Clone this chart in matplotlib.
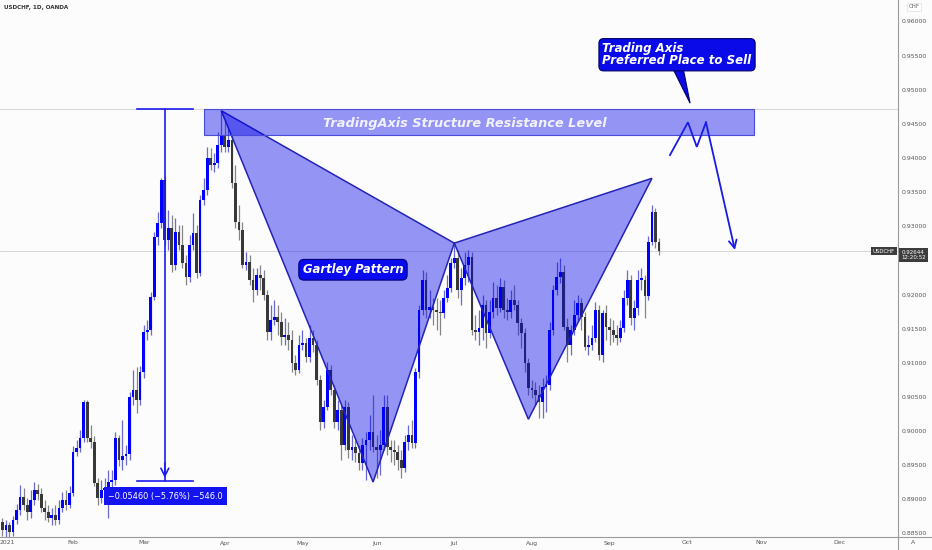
import numpy as np
import pandas as pd
import matplotlib
matplotlib.use('Agg')
import matplotlib.pyplot as plt
from matplotlib.patches import Polygon, Rectangle
import matplotlib.transforms as mtransforms

# ---------------- data ----------------
title_text = "USDCHF, 1D, OANDA"
start_date = '2021-01-01'

opens = [0.8859, 0.8868, 0.8856, 0.8863, 0.8853, 0.8870, 0.8885, 0.8904, 0.8892, 0.8882,
         0.8900, 0.8914, 0.8908, 0.8888, 0.8882, 0.8873, 0.8878, 0.8870, 0.8888, 0.8900,
         0.8892, 0.8910, 0.8970, 0.8976, 0.8990, 0.9043, 0.8990, 0.8985, 0.8925, 0.8902,
         0.8914, 0.8917, 0.8926, 0.8929, 0.8990, 0.8958, 0.8964, 0.8967, 0.9051, 0.9061,
         0.9046, 0.9087, 0.9146, 0.9149, 0.9197, 0.9285, 0.9305, 0.9368, 0.9281, 0.9298,
         0.9244, 0.9292, 0.9273, 0.9247, 0.9226, 0.9273, 0.9291, 0.9232, 0.9339, 0.9354,
         0.9401, 0.9390, 0.9393, 0.9420, 0.9434, 0.9417, 0.9427, 0.9364, 0.9307, 0.9295,
         0.9244, 0.9248, 0.9222, 0.9207, 0.9229, 0.9225, 0.9200, 0.9146, 0.9163, 0.9168,
         0.9161, 0.9138, 0.9141, 0.9134, 0.9100, 0.9090, 0.9127, 0.9130, 0.9109, 0.9137,
         0.9127, 0.9076, 0.9014, 0.9036, 0.9090, 0.9061, 0.9014, 0.9032, 0.8980, 0.9036,
         0.8973, 0.8977, 0.8969, 0.8954, 0.8980, 0.8988, 0.8999, 0.8977, 0.8973, 0.8980,
         0.9036, 0.8977, 0.8973, 0.8970, 0.8958, 0.8946, 0.8985, 0.8995, 0.8983, 0.9087,
         0.9178, 0.9222, 0.9178, 0.9183, 0.9178, 0.9175, 0.9174, 0.9196, 0.9210, 0.9247,
         0.9254, 0.9207, 0.9225, 0.9244, 0.9256, 0.9149, 0.9146, 0.9152, 0.9185, 0.9144,
         0.9175, 0.9196, 0.9181, 0.9212, 0.9178, 0.9175, 0.9193, 0.9185, 0.9159, 0.9144,
         0.9100, 0.9064, 0.9061, 0.9054, 0.9043, 0.9065, 0.9068, 0.9149, 0.9207, 0.9226,
         0.9234, 0.9153, 0.9127, 0.9149, 0.9171, 0.9188, 0.9168, 0.9124, 0.9127, 0.9137,
         0.9178, 0.9112, 0.9174, 0.9153, 0.9149, 0.9141, 0.9137, 0.9152, 0.9196, 0.9222,
         0.9166, 0.9181, 0.9222, 0.9222, 0.9199, 0.9278, 0.9322, 0.9278]

highs = [0.8878, 0.8873, 0.8870, 0.8868, 0.8876, 0.8894, 0.8922, 0.8917, 0.8902, 0.8914,
         0.8926, 0.8923, 0.8917, 0.8900, 0.8892, 0.8888, 0.8892, 0.8900, 0.8911, 0.8914,
         0.8920, 0.8979, 0.8988, 0.9002, 0.9046, 0.9046, 0.9010, 0.8993, 0.8932, 0.8929,
         0.8932, 0.8944, 0.8944, 0.8999, 0.8995, 0.9017, 0.8980, 0.9058, 0.9090, 0.9094,
         0.9096, 0.9156, 0.9163, 0.9205, 0.9292, 0.9322, 0.9371, 0.9374, 0.9325, 0.9317,
         0.9313, 0.9303, 0.9303, 0.9259, 0.9288, 0.9320, 0.9303, 0.9347, 0.9371, 0.9417,
         0.9415, 0.9408, 0.9439, 0.9470, 0.9456, 0.9445, 0.9434, 0.9390, 0.9332, 0.9307,
         0.9263, 0.9259, 0.9240, 0.9240, 0.9244, 0.9237, 0.9207, 0.9185, 0.9193, 0.9185,
         0.9175, 0.9166, 0.9161, 0.9149, 0.9112, 0.9141, 0.9149, 0.9137, 0.9156, 0.9149,
         0.9134, 0.9083, 0.9046, 0.9102, 0.9097, 0.9068, 0.9046, 0.9039, 0.9046, 0.9043,
         0.8995, 0.8988, 0.8980, 0.8990, 0.8999, 0.9024, 0.9054, 0.8995, 0.9002, 0.9054,
         0.9054, 0.8988, 0.8988, 0.8980, 0.8973, 0.8995, 0.9010, 0.9017, 0.9093, 0.9185,
         0.9237, 0.9234, 0.9207, 0.9196, 0.9196, 0.9193, 0.9207, 0.9229, 0.9254, 0.9276,
         0.9266, 0.9240, 0.9263, 0.9266, 0.9263, 0.9171, 0.9178, 0.9200, 0.9193, 0.9193,
         0.9219, 0.9215, 0.9225, 0.9222, 0.9196, 0.9207, 0.9215, 0.9193, 0.9166, 0.9152,
         0.9108, 0.9076, 0.9073, 0.9068, 0.9078, 0.9083, 0.9161, 0.9215, 0.9248, 0.9254,
         0.9244, 0.9166, 0.9156, 0.9193, 0.9200, 0.9196, 0.9175, 0.9141, 0.9156, 0.9190,
         0.9185, 0.9178, 0.9185, 0.9166, 0.9163, 0.9156, 0.9163, 0.9207, 0.9237, 0.9229,
         0.9193, 0.9237, 0.9240, 0.9229, 0.9287, 0.9332, 0.9327, 0.9284]

lows = [0.8849, 0.8847, 0.8846, 0.8846, 0.8847, 0.8865, 0.8878, 0.8885, 0.8870, 0.8873,
        0.8892, 0.8900, 0.8882, 0.8870, 0.8868, 0.8863, 0.8863, 0.8865, 0.8882, 0.8885,
        0.8888, 0.8905, 0.8964, 0.8970, 0.8985, 0.8985, 0.8976, 0.8920, 0.8892, 0.8895,
        0.8907, 0.8873, 0.8914, 0.8922, 0.8949, 0.8944, 0.8951, 0.8958, 0.9039, 0.9027,
        0.9039, 0.9078, 0.9134, 0.9141, 0.9193, 0.9273, 0.9298, 0.9273, 0.9266, 0.9234,
        0.9237, 0.9266, 0.9240, 0.9215, 0.9219, 0.9266, 0.9225, 0.9228, 0.9332, 0.9347,
        0.9383, 0.9380, 0.9386, 0.9410, 0.9410, 0.9410, 0.9357, 0.9298, 0.9281, 0.9240,
        0.9237, 0.9215, 0.9190, 0.9200, 0.9207, 0.9193, 0.9134, 0.9134, 0.9156, 0.9141,
        0.9127, 0.9127, 0.9120, 0.9087, 0.9083, 0.9086, 0.9120, 0.9102, 0.9102, 0.9117,
        0.9068, 0.9002, 0.9005, 0.9032, 0.9054, 0.9005, 0.9002, 0.8958, 0.8973, 0.8961,
        0.8958, 0.8955, 0.8944, 0.8944, 0.8929, 0.8973, 0.8970, 0.8932, 0.8936, 0.8973,
        0.8966, 0.8955, 0.8951, 0.8944, 0.8932, 0.8941, 0.8973, 0.8976, 0.8976, 0.9078,
        0.9171, 0.9166, 0.9166, 0.9156, 0.9149, 0.9141, 0.9166, 0.9190, 0.9205, 0.9240,
        0.9196, 0.9185, 0.9215, 0.9219, 0.9141, 0.9134, 0.9127, 0.9134, 0.9122, 0.9137,
        0.9166, 0.9171, 0.9175, 0.9166, 0.9163, 0.9166, 0.9178, 0.9141, 0.9122, 0.9087,
        0.9054, 0.9049, 0.9039, 0.9020, 0.9020, 0.9029, 0.9061, 0.9141, 0.9200, 0.9218,
        0.9149, 0.9102, 0.9112, 0.9141, 0.9163, 0.9149, 0.9120, 0.9112, 0.9120, 0.9131,
        0.9105, 0.9102, 0.9134, 0.9127, 0.9131, 0.9127, 0.9131, 0.9146, 0.9185, 0.9156,
        0.9149, 0.9171, 0.9207, 0.9166, 0.9193, 0.9273, 0.9269, 0.9259]

closes = [0.8868, 0.8856, 0.8863, 0.8853, 0.8870, 0.8885, 0.8904, 0.8892, 0.8882, 0.8900,
          0.8914, 0.8908, 0.8888, 0.8882, 0.8873, 0.8878, 0.8870, 0.8888, 0.8900, 0.8892,
          0.8910, 0.8970, 0.8976, 0.8990, 0.9043, 0.8990, 0.8985, 0.8925, 0.8902, 0.8914,
          0.8917, 0.8926, 0.8929, 0.8990, 0.8958, 0.8964, 0.8967, 0.9051, 0.9061, 0.9046,
          0.9087, 0.9146, 0.9149, 0.9197, 0.9285, 0.9305, 0.9368, 0.9281, 0.9298, 0.9244,
          0.9292, 0.9273, 0.9247, 0.9226, 0.9273, 0.9291, 0.9232, 0.9339, 0.9354, 0.9401,
          0.9390, 0.9393, 0.9420, 0.9434, 0.9417, 0.9427, 0.9364, 0.9307, 0.9295, 0.9244,
          0.9248, 0.9222, 0.9207, 0.9229, 0.9225, 0.9200, 0.9146, 0.9163, 0.9168, 0.9161,
          0.9138, 0.9141, 0.9134, 0.9100, 0.9090, 0.9127, 0.9130, 0.9109, 0.9137, 0.9127,
          0.9076, 0.9014, 0.9036, 0.9090, 0.9061, 0.9014, 0.9032, 0.8980, 0.9036, 0.8973,
          0.8977, 0.8969, 0.8954, 0.8980, 0.8988, 0.8999, 0.8977, 0.8973, 0.8980, 0.9036,
          0.8977, 0.8973, 0.8970, 0.8958, 0.8946, 0.8985, 0.8995, 0.8983, 0.9087, 0.9178,
          0.9222, 0.9178, 0.9183, 0.9178, 0.9175, 0.9174, 0.9196, 0.9210, 0.9247, 0.9254,
          0.9207, 0.9225, 0.9244, 0.9256, 0.9149, 0.9146, 0.9152, 0.9185, 0.9144, 0.9175,
          0.9196, 0.9181, 0.9212, 0.9178, 0.9175, 0.9193, 0.9185, 0.9159, 0.9144, 0.9100,
          0.9064, 0.9061, 0.9054, 0.9043, 0.9065, 0.9068, 0.9149, 0.9207, 0.9226, 0.9234,
          0.9153, 0.9127, 0.9149, 0.9171, 0.9188, 0.9168, 0.9124, 0.9127, 0.9137, 0.9178,
          0.9112, 0.9174, 0.9153, 0.9149, 0.9141, 0.9137, 0.9152, 0.9196, 0.9222, 0.9166,
          0.9181, 0.9222, 0.9225, 0.9199, 0.9278, 0.9322, 0.9278, 0.9264]

last_price_label = "0.92644"
countdown_label = "12:20:52"

# Gartley pattern points: (bar index, price)  X, A, B, C, D
pattern_bars = [63, 106, 129, 150, 185]
pattern_prices = [0.9470, 0.8926, 0.9276, 0.9018, 0.9371]

# resistance zone
zone_bars = [58, 214]
zone_prices = [0.9434, 0.9473]
zone_label = "TradingAxis Structure Resistance Level"

# measurement (price range) tool
measure_bar = 47
measure_span = [39, 55]
measure_prices = [0.9473, 0.8928]
measure_label = "\u22120.05460 (\u22125.76%) \u2212546.0"

# projected path
proj_bars = [190.1, 195.2, 197.7, 200.3, 208.5]
proj_prices = [0.9405, 0.9453, 0.9417, 0.9453, 0.9266]

bubble_text = "Trading Axis\nPreferred Place to Sell"
gartley_text = "Gartley Pattern"

price_ticks = [0.885, 0.890, 0.895, 0.900, 0.905, 0.910, 0.915, 0.920,
               0.925, 0.930, 0.935, 0.940, 0.945, 0.950, 0.955, 0.960]
month_labels = ['2021', 'Feb', 'Mar', 'Apr', 'May', 'Jun', 'Jul', 'Aug',
                'Sep', 'Oct', 'Nov', 'Dec']

# ---------------- figure ----------------
BG = '#fcfcfc'
fig = plt.figure(figsize=(9.32, 5.5), dpi=100, facecolor=BG)
ax = fig.add_axes([0, 13 / 550, 898 / 932, 537 / 550])
ax.set_facecolor(BG)
ax.set_xlim(0.31, 254.7)
ax.set_ylim(0.88455, 0.96322)
for s in ax.spines.values():
    s.set_visible(False)
ax.set_xticks([])
ax.set_yticks([])

o = np.array(opens); h = np.array(highs); l = np.array(lows); c = np.array(closes)
x = np.arange(len(c))
up = c >= o
dn = ~up
UP = '#0000ff'
DN = '#383838'
ax.vlines(x[up], l[up], h[up], color='#6a6ad4', lw=0.9, zorder=2)
ax.vlines(x[dn], l[dn], h[dn], color='#858585', lw=0.9, zorder=2)
bottoms = np.minimum(o, c)
heights = np.maximum(np.abs(c - o), 0.00008)
ax.bar(x[up], heights[up], bottom=bottoms[up], width=0.78, color=UP, lw=0, zorder=3)
ax.bar(x[dn], heights[dn], bottom=bottoms[dn], width=0.78, color=DN, lw=0, zorder=3)

# horizontal guide lines
ax.axhline(zone_prices[1], color='#d0d0d0', lw=0.6, zorder=1)
ax.axhline(closes[-1], color='#cfcfcf', lw=0.6, zorder=1)

FILL = (0.0, 0.0, 0.92, 0.41)
EDGE = '#2323b8'

# Gartley pattern
P = list(zip(pattern_bars, pattern_prices))
ax.add_patch(Polygon([P[0], P[1], P[2]], closed=True, fc=FILL, ec=EDGE, lw=1.1, zorder=4))
ax.add_patch(Polygon([P[2], P[3], P[4]], closed=True, fc=FILL, ec=EDGE, lw=1.1, zorder=4))

# resistance zone
ax.add_patch(Rectangle((zone_bars[0], zone_prices[0]), zone_bars[1] - zone_bars[0],
                       zone_prices[1] - zone_prices[0], fc=FILL, ec='#4a4ad8', lw=0.8, zorder=4))
ax.text(132, 0.9452, zone_label, ha='center', va='center', fontsize=9.3,
        fontweight='bold', fontstyle='italic', color='#f2f2ff', zorder=6)

# measurement tool
MC = '#1c1cf0'
ax.plot([measure_bar, measure_bar], measure_prices, color=MC, lw=1.2, zorder=5)
for p in measure_prices:
    ax.plot(measure_span, [p, p], color=MC, lw=1.2, zorder=5)
ax.annotate('', xy=(measure_bar, measure_prices[1]), xytext=(measure_bar, measure_prices[1] + 0.003),
            arrowprops=dict(arrowstyle='->', color=MC, lw=1.2, mutation_scale=14), zorder=5)
ax.text(47.2, 0.8905, measure_label, ha='center', va='center', fontsize=5.9, color='white',
        zorder=7, bbox=dict(boxstyle='square,pad=0.55', fc='#1414f2', ec='none'))

# Gartley label
ax.text(100.3, 0.9237, gartley_text, ha='center', va='center', fontsize=8.4,
        fontweight='bold', fontstyle='italic', color='white', zorder=7,
        bbox=dict(boxstyle='round,pad=0.33,rounding_size=0.45', fc='#0a0af0', ec='#00007a', lw=0.8))

# projection path
PC = '#1a1ae6'
ax.plot(proj_bars[:4], proj_prices[:4], color=PC, lw=1.3, zorder=5, solid_joinstyle='miter')
ax.annotate('', xy=(proj_bars[4], proj_prices[4]), xytext=(proj_bars[3], proj_prices[3]),
            arrowprops=dict(arrowstyle='->', color=PC, lw=1.3, mutation_scale=14,
                            shrinkA=0, shrinkB=0), zorder=5)

# speech bubble
ax.add_patch(Polygon([(190.8, 0.9533), (193.8, 0.9533), (195.8, 0.9481)], closed=True,
                     fc='#0a0ae8', ec='#00006a', lw=0.8, zorder=6))
ax.text(192.1, 0.9552, bubble_text, ha='center', va='center', multialignment='left',
        fontsize=8.5, fontweight='bold', fontstyle='italic', color='white', linespacing=0.92,
        zorder=7, bbox=dict(boxstyle='round,pad=0.3,rounding_size=0.4', fc='#0a0ae8',
                            ec='#00006a', lw=0.8))

# right price scale
ty = mtransforms.blended_transform_factory(ax.transAxes, ax.transData)
for p in price_ticks:
    ax.text(914 / 898, p, f'{p:.5f}', transform=ty, ha='center', va='center',
            fontsize=4.4, color='#555555', clip_on=False, zorder=2)
ax.text(884 / 898, closes[-1], 'USDCHF', transform=ty, ha='center', va='center',
        fontsize=3.9, color='white', clip_on=False, zorder=9,
        bbox=dict(boxstyle='square,pad=0.3', fc='#3c3c3c', ec='none'))
ax.text(913.5 / 898, 0.92665, last_price_label + '\n' + countdown_label, transform=ty,
        ha='center', va='top', fontsize=4.0, color='white', clip_on=False, zorder=9,
        linespacing=1.15, bbox=dict(boxstyle='square,pad=0.3', fc='#3c3c3c', ec='none'))

# separators
fig.add_artist(plt.Line2D([898 / 932, 898 / 932], [0, 1], color='#9a9a9a', lw=0.8))
fig.add_artist(plt.Line2D([0, 1], [13 / 550, 13 / 550], color='#9a9a9a', lw=0.8))

# time axis labels
full_days = pd.bdate_range(start_date, '2021-12-31')
month_pos = [int(np.where(full_days.month == m)[0][0]) for m in range(1, 13)]
tx = mtransforms.blended_transform_factory(ax.transData, fig.transFigure)
for pos, lab in zip(month_pos, month_labels):
    xpos = pos if lab != '2021' else 2.4
    ax.text(xpos, 7 / 550, lab, transform=tx, ha='center', va='center', fontsize=4.4,
            color='#555555', clip_on=False)
fig.text(913 / 932, 7 / 550, 'A', ha='center', va='center', fontsize=4.4, color='#555555')

# header
fig.text(4 / 932, 1 - 7 / 550, title_text, ha='left', va='center', fontsize=4.1,
         color='#333333', fontweight='semibold')
fig.text(914 / 932, 1 - 7 / 550, 'CHF', ha='center', va='center', fontsize=4.0, color='#666666',
         bbox=dict(boxstyle='square,pad=0.3', fc='white', ec='#e0e0e0', lw=0.5))

fig.savefig('out.png', dpi=100, facecolor=BG)
